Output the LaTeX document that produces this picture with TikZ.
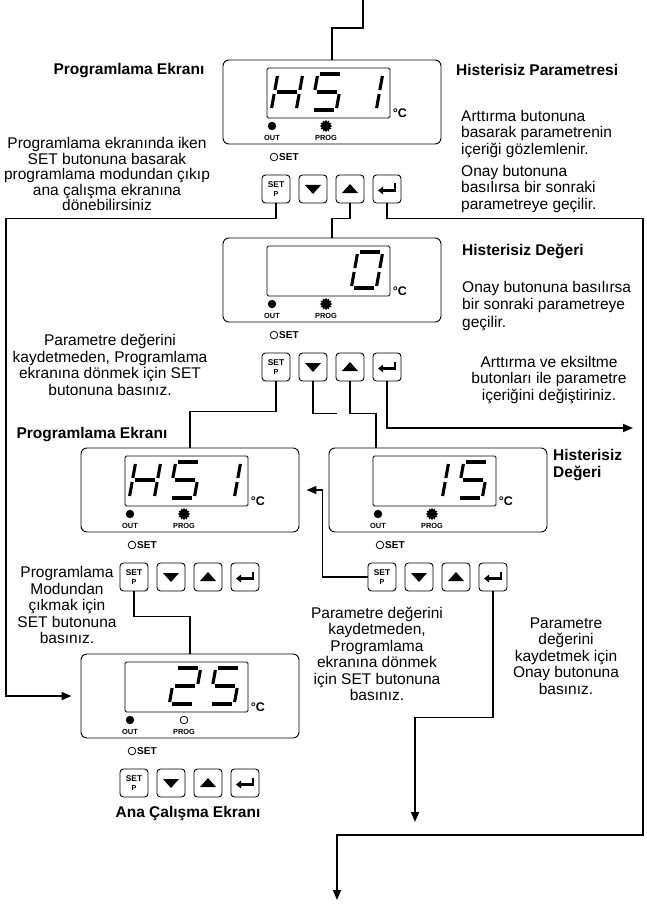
\documentclass[tikz,border=0pt]{standalone}
\usepackage{fontspec}
\setmainfont{Liberation Sans}
\usetikzlibrary{arrows.meta,shapes.geometric}

\tikzset{
  outer/.style={draw, rounded corners=6pt, minimum width=218pt, minimum height=84pt, inner sep=0pt, line width=0.9pt},
  disp/.style={draw, rounded corners=1.5pt, minimum width=123pt, minimum height=50pt, inner sep=0pt, line width=0.9pt},
  btn/.style={draw, rounded corners=3.5pt, minimum width=28pt, minimum height=28pt, inner sep=0pt, line width=0.9pt},
  seg/.style={line width=3.1pt, line cap=butt},
  conn/.style={line width=1.6pt},
  arr/.style={conn, -{Triangle[length=10pt,width=8pt]}},
  txt/.style={font=\fontsize{15.5}{16.5}\selectfont, inner sep=0pt, align=center},
  ttl/.style={font=\fontsize{15.5}{16.5}\selectfont\bfseries, inner sep=0pt},
  tiny/.style={font=\fontsize{7.4}{7.5}\selectfont\bfseries, inner sep=0pt},
  setl/.style={font=\fontsize{10}{10}\selectfont\bfseries, inner sep=0pt},
  degc/.style={font=\fontsize{12.5}{12.5}\selectfont\bfseries, inner sep=0pt},
  btset/.style={font=\fontsize{8.4}{8.5}\selectfont\bfseries, inner sep=0pt},
  btp/.style={font=\fontsize{7.2}{7.2}\selectfont\bfseries, inner sep=0pt},
}

\newcommand\sevseg[2]{%
  \begin{scope}[shift={({\pl+64+40*#1},{\pt+32})}, xslant=0.18]
    \foreach \s in {#2}{%
      \if\s a\draw[seg] (-10,-18)--(10,-18);\fi
      \if\s b\draw[seg] (12.5,-16)--(12.5,-2);\fi
      \if\s c\draw[seg] (12.5,2)--(12.5,16);\fi
      \if\s d\draw[seg] (-10,18)--(10,18);\fi
      \if\s e\draw[seg] (-12.5,2)--(-12.5,16);\fi
      \if\s f\draw[seg] (-12.5,-16)--(-12.5,-2);\fi
      \if\s g\draw[seg] (-10,0)--(10,0);\fi
    }
  \end{scope}}

\newcommand\panel[5]{%
  \def\pl{#2}\def\pt{#3}%
  \node[outer] (#1) at (#2+109,#3+42) {};
  \node[disp] (#1x) at (#2+105.5,#3+33) {};
  #4
  \node[degc] at (#2+177,#3+53) {°C};
  \fill (#2+49,#3+66) circle (4.2pt);
  \node[tiny] at (#2+49,#3+77.5) {OUT};
  \ifnum#5=1
    \node[star, star points=12, star point ratio=1.5, fill, inner sep=0pt, minimum size=13pt] at (#2+103,#3+66) {};
  \else
    \draw[line width=0.8pt] (#2+103,#3+66) circle (3.8pt);
  \fi
  \node[tiny] at (#2+103,#3+77.5) {PROG};
  \draw[line width=0.8pt] (#2+51,#3+97) circle (3.8pt);
  \node[setl, anchor=west] at (#2+56,#3+97) {SET};
  \node[btn] (#1s) at (#2+53,#3+129) {};
  \node[btset] at (#2+53,#3+124.5) {SET};
  \node[btp] at (#2+53,#3+134.5) {P};
  \node[btn] (#1d) at (#2+90,#3+129) {};
  \fill (#2+82,#3+125) -- (#2+98,#3+125) -- (#2+90,#3+134) -- cycle;
  \node[btn] (#1u) at (#2+127,#3+129) {};
  \fill (#2+119,#3+133) -- (#2+135,#3+133) -- (#2+127,#3+124) -- cycle;
  \node[btn] (#1e) at (#2+164,#3+129) {};
  \draw[line width=2.4pt, -{Triangle[length=5pt,width=7.5pt]}] (#2+172,#3+123.5) -- (#2+172,#3+130.5) -- (#2+155,#3+130.5);
}

\begin{document}
\begin{tikzpicture}[x=1pt,y=-1pt]
\useasboundingbox (0,0) rectangle (647,904);

% panels
\panel{p1}{223}{60}{\sevseg{0}{b,c,e,f,g}\sevseg{1}{a,f,g,c,d}\sevseg{2}{b,c}}{1}
\panel{p2}{223}{238}{\sevseg{2}{a,b,c,d,e,f}}{1}
\panel{p3}{81}{448}{\sevseg{0}{b,c,e,f,g}\sevseg{1}{a,f,g,c,d}\sevseg{2}{b,c}}{1}
\panel{p4}{329}{448}{\sevseg{1}{b,c}\sevseg{2}{a,f,g,c,d}}{1}
\panel{p5}{81}{654}{\sevseg{1}{a,b,g,e,d}\sevseg{2}{a,f,g,c,d}}{0}

% texts
\node[ttl] (t1) at (129,71) {Programlama Ekranı};
\node[txt, font=\fontsize{15.5}{15.5}\selectfont] (t2) at (107,174) {Programlama ekranında iken\\SET butonuna basarak\\programlama modundan çıkıp\\ana çalışma ekranına\\dönebilirsiniz};
\node[ttl, anchor=west] (t3) at (456,70) {Histerisiz Parametresi};
\node[txt, align=left, anchor=west] (t4) at (461,134) {Arttırma butonuna\\basarak parametrenin\\içeriği gözlemlenir.};
\node[txt, align=left, anchor=west] (t5) at (461,189) {Onay butonuna\\basılırsa bir sonraki\\parametreye geçilir.};
\node[ttl, anchor=west] (t6) at (462,251) {Histerisiz Değeri};
\node[txt, align=left, anchor=west, font=\fontsize{15.5}{17.5}\selectfont] (t7) at (462,306) {Onay butonuna basılırsa\\bir sonraki parametreye\\geçilir.};
\node[txt] (t8) at (549,380) {Arttırma ve eksiltme\\butonları ile parametre\\içeriğini değiştiriniz.};
\node[txt] (t9) at (110,365) {Parametre değerini\\kaydetmeden, Programlama\\ekranına dönmek için SET\\butonuna basınız.};
\node[ttl] (t10) at (92,435) {Programlama Ekranı};
\node[ttl, align=left, anchor=west] (t11) at (553,465) {Histerisiz\\Değeri};
\node[txt] (t12) at (67,605) {Programlama\\Modundan\\çıkmak için\\SET butonuna\\basınız.};
\node[txt] (t13) at (377,654) {Parametre değerini\\kaydetmeden,\\Programlama\\ekranına dönmek\\için SET butonuna\\basınız.};
\node[txt] (t14) at (566,656) {Parametre\\değerini\\kaydetmek için\\Onay butonuna\\basınız.};
\node[ttl] (t15) at (188,813) {Ana Çalışma Ekranı};

% free ends
\coordinate (topin) at (363,0);
\coordinate (lft) at (6,400);
\coordinate (r1) at (643,835);
\coordinate (exit1) at (337,900);
\coordinate (exit2) at (633,428);
\coordinate (exit3) at (415,822);
\coordinate (p4in) at (376,448);

% connectors
\draw[conn] (topin) -- ++(0,28) -| (p1.north);
\draw[arr, shorten >=9pt] (p1s.south) -- ++(0,15) -| (lft) |- (p5.west);
\draw[conn] (p1u.south) -- ++(0,15) -| (p2.north);
\draw[arr] (p1e.south) -- ++(0,15) -| (r1) -| (exit1);
\draw[conn] (p2s.south) -- ++(0,30) -| (p3.north);
\draw[conn] (p2d.south) -- ++(0,32) -- ++(24,0);
\draw[conn] (p2u.south) -- ++(0,32) -| (p4in);
\draw[arr] (p2e.south) |- (exit2);
\draw[conn] (p3s.south) -- ++(0,25) -| (p5.north);
\draw[arr, shorten >=7pt] (p4s.west) -- ++(-45,0) |- (p3.east);
\draw[arr] (p4e.south) -- ++(0,126) -| (exit3);
\end{tikzpicture}
\end{document}
